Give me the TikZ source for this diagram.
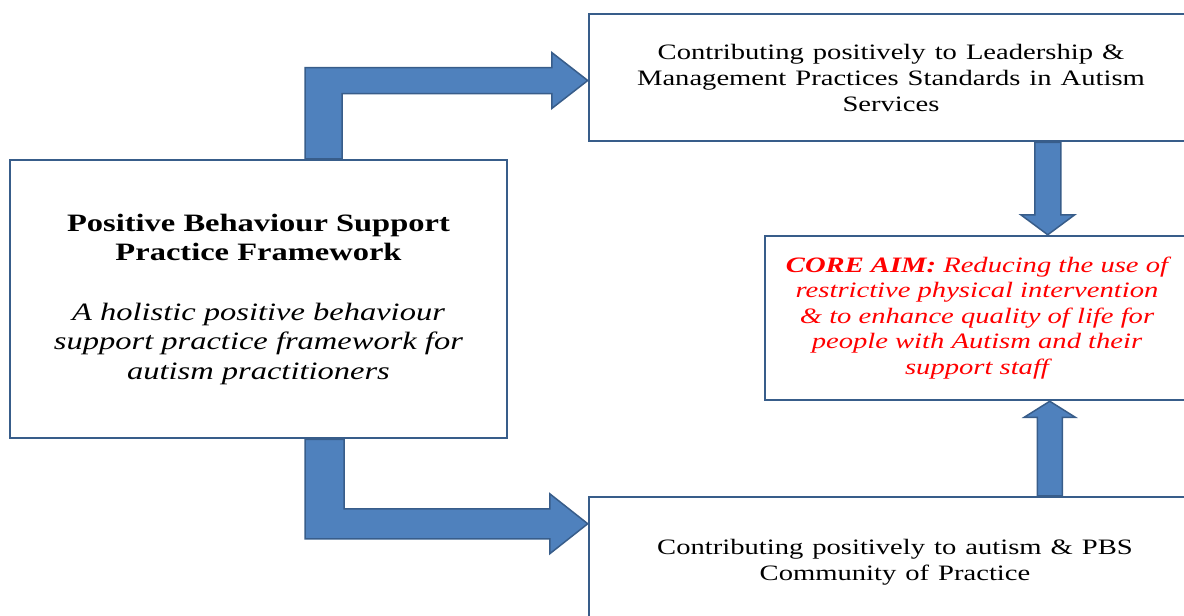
\documentclass[tikz,border=0pt]{standalone}
\usepackage{fontspec}
\setmainfont{Liberation Serif}[FakeStretch=1.3]
\usetikzlibrary{calc}
\definecolor{arrowblue}{HTML}{4F81BD}
\definecolor{edgeblue}{HTML}{385D8A}
\newcommand\widespaces{\spaceskip 9pt plus 2pt minus 1pt\relax}
\begin{document}
\begin{tikzpicture}[x=1pt, y=-1pt,
	box/.style={draw=edgeblue, line width=2.5pt, fill=white, align=center, inner sep=0pt},
	blockarrow/.style={fill=arrowblue, draw=edgeblue, line width=1.5pt, line join=miter}]
	\useasboundingbox (0,0) rectangle (1184,616);
	\node[box, minimum width=497pt, minimum height=278pt, font=\fontsize{25}{29.5}\selectfont] (pbs) at (258.5,299)
		{\textbf{Positive Behaviour Support}\\ \textbf{Practice Framework}\\[30pt] \textit{A holistic positive behaviour}\\ \textit{support practice framework for}\\ \textit{autism practitioners}};
	\node[box, minimum width=604pt, minimum height=127pt, font={\fontsize{22}{26}\selectfont\widespaces}] (lead) at (891,77.5)
		{Contributing positively to Leadership \&\\ Management Practices Standards in Autism\\ Services};
	\node[box, minimum width=424pt, minimum height=164pt, text=red, font=\fontsize{22}{25.5}\selectfont\itshape] (core) at (977,318)
		{\textbf{CORE AIM:} Reducing the use of\\ restrictive physical intervention\\ \& to enhance quality of life for\\ people with Autism and their\\ support staff};
	\node[box, minimum width=612pt, minimum height=130pt, font={\fontsize{22}{26}\selectfont\widespaces}] (comm) at (895,562)
		{Contributing positively to autism \& PBS\\ Community of Practice};
	\draw[blockarrow] ($(pbs.north)+(46.5,0)$) |- ($(lead.west)+(-36,-10)$) -- ++(0,-15) -- ($(lead.west)+(0,3)$) -- ++(-36,28) -- ++(0,-15) -| ($(pbs.north)+(83.5,0)$) -- cycle;
	\draw[blockarrow] ($(pbs.south)+(46.5,0)$) |- ($(comm.north west)+(-38,43)$) -- ++(0,15) -- ($(comm.north west)+(0,28)$) -- ++(-38,-30) -- ++(0,15) -| ($(pbs.south)+(85.5,0)$) -- cycle;
	\coordinate (dtip) at ($(core.north west)+(284,0)$);
	\draw[blockarrow] ($(dtip |- lead.south)+(-13,0)$) -- ($(dtip)+(-13,-20)$) -- ++(-14,0) -- (dtip) -- ++(27,-20) -- ++(-14,0) -- ($(dtip |- lead.south)+(13,0)$) -- cycle;
	\coordinate (utip) at ($(core.south west)+(286,0)$);
	\draw[blockarrow] ($(utip |- comm.north)+(-12.5,0)$) -- ($(utip)+(-12.5,16)$) -- ++(-13,0) -- (utip) -- ++(25.5,16) -- ++(-13,0) -- ($(utip |- comm.north)+(12.5,0)$) -- cycle;
\end{tikzpicture}
\end{document}
